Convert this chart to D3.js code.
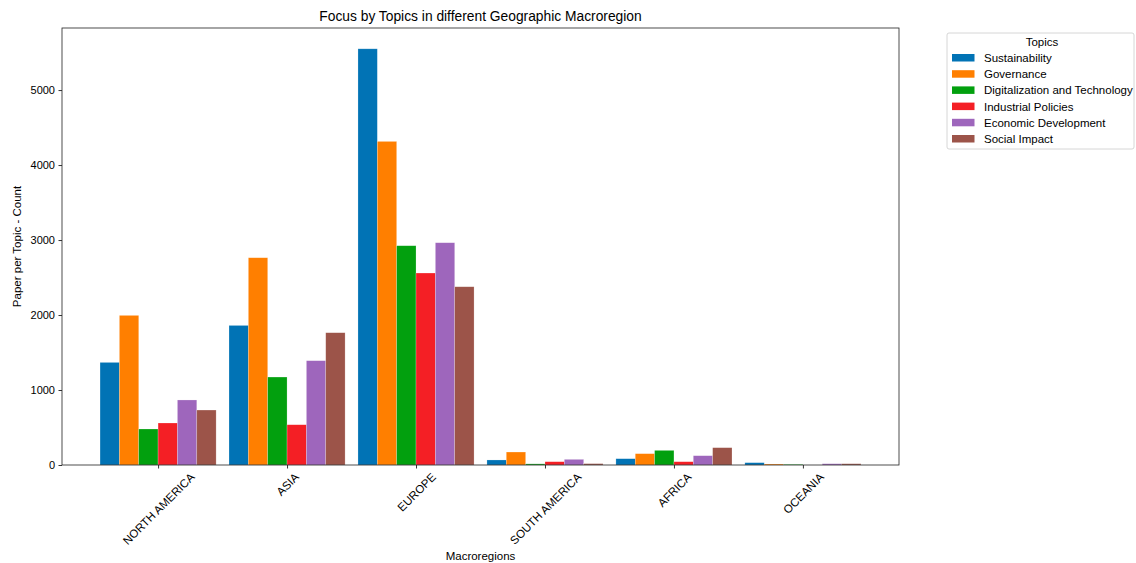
<!DOCTYPE html>
<html>
<head>
<meta charset="utf-8">
<script src="https://cdn.jsdelivr.net/npm/d3@7"></script>
<style>
  html, body { margin: 0; padding: 0; background: #fff; }
  svg { display: block; font-family: "Liberation Sans", Arial, sans-serif; }
</style>
</head>
<body>
<svg id="chart" width="1136" height="563"></svg>
<script>
// Macroregions on the x axis
const regions = ["NORTH AMERICA", "ASIA", "EUROPE", "SOUTH AMERICA", "AFRICA", "OCEANIA"];
// Topic series
const topics = ["Sustainability", "Governance", "Digitalization and Technology",
                "Industrial Policies", "Economic Development", "Social Impact"];
const topicColors = ["#0173b5", "#ff7f00", "#02a00e", "#f41f25", "#9e66bc", "#9c5449"];

// Paper counts per topic, one value per macroregion (in regions order)
const sustainability = [1368, 1861, 5550, 67, 84, 31];
const governance     = [1995, 2764, 4315, 173, 151, 13];
const digitalization = [480, 1173, 2924, 15, 195, 8];
const industrial     = [560, 537, 2560, 44, 44, 0];
const economic       = [867, 1391, 2964, 75, 124, 17];
const social         = [733, 1764, 2377, 18, 231, 17];

const yTicks = [0, 1000, 2000, 3000, 4000, 5000];

const seriesValues = [sustainability, governance, digitalization, industrial, economic, social];

const FONT = "Liberation Sans, Arial, sans-serif";
const labelSize = 11.5;

const svg = d3.select("#chart");
const margin = { left: 62, right: 237, top: 28, bottom: 98 };
const W = 1136, H = 563;
const plotW = W - margin.left - margin.right;
const plotH = H - margin.top - margin.bottom;

const g = svg.append("g").attr("transform", `translate(${margin.left},${margin.top})`);

// Numeric x scale in category units, matching a 0.15-wide bar layout
const barW = 0.15;
const xMin = -0.45 - 0.295, xMax = 5.45 + 0.295;
const x = d3.scaleLinear().domain([xMin, xMax]).range([0, plotW]);
const yMax = d3.max(seriesValues.flat()) * 1.05;
const y = d3.scaleLinear().domain([0, yMax]).range([plotH, 0]);

// Bars
seriesValues.forEach((vals, si) => {
  const offset = (si - 2.5) * barW;
  g.append("g").selectAll("rect")
    .data(vals.map((v, i) => ({ v, i })))
    .join("rect")
    .attr("x", d => x(d.i + offset - barW / 2))
    .attr("width", d => x(barW) - x(0))
    .attr("y", d => y(d.v))
    .attr("height", d => y(0) - y(d.v))
    .attr("fill", topicColors[si])
    .attr("stroke", "#fff")
    .attr("stroke-opacity", 0.35)
    .attr("stroke-width", 0.6);
});

// Y axis
const yAxis = g.append("g")
  .call(d3.axisLeft(y).tickValues(yTicks).tickSize(3.5).tickPadding(3.5).tickFormat(d3.format("d")));
yAxis.selectAll("text").attr("font-size", 11).attr("fill", "#000").attr("font-family", FONT);
yAxis.selectAll("line").attr("stroke", "#000").attr("stroke-width", 0.8);
yAxis.select(".domain").remove();

// X axis with labels rotated 45° about their centre
const xAxis = g.append("g").attr("transform", `translate(0,${plotH})`)
  .call(d3.axisBottom(x).tickValues(d3.range(regions.length)).tickSize(3.5)
    .tickFormat(i => regions[i]));
xAxis.select(".domain").remove();
xAxis.selectAll("line").attr("stroke", "#000").attr("stroke-width", 0.8);
xAxis.selectAll("text")
  .attr("font-size", labelSize).attr("fill", "#000").attr("font-family", FONT)
  .attr("text-anchor", "middle")
  .attr("dy", null).attr("y", null)
  .each(function () {
    const w = this.getComputedTextLength();
    const h = labelSize * 0.72;
    const half = (w + h) / Math.SQRT2 / 2;
    const cy = 3.5 + 3.5 + half;
    d3.select(this).attr("transform", `translate(0,${cy}) rotate(-45) translate(0,${h / 2})`);
  });

// Frame
g.append("rect").attr("x", 0).attr("y", 0).attr("width", plotW).attr("height", plotH)
  .attr("fill", "none").attr("stroke", "#222").attr("stroke-width", 0.8);

// Title and axis labels
svg.append("text").attr("x", margin.left + plotW / 2).attr("y", 21)
  .attr("text-anchor", "middle").attr("font-size", 13.8).attr("fill", "#000")
  .text("Focus by Topics in different Geographic Macroregion");
svg.append("text").attr("x", margin.left + plotW / 2).attr("y", 560)
  .attr("text-anchor", "middle").attr("font-size", labelSize).attr("fill", "#000")
  .text("Macroregions");
svg.append("text")
  .attr("transform", `translate(21,${margin.top + plotH / 2}) rotate(-90)`)
  .attr("text-anchor", "middle").attr("font-size", labelSize).attr("fill", "#000")
  .text("Paper per Topic - Count");

// Legend
const lg = svg.append("g").attr("transform", "translate(947,33)");
lg.append("rect").attr("x", 0).attr("y", 0).attr("width", 187).attr("height", 116).attr("rx", 2)
  .attr("fill", "#fff").attr("stroke", "#ccc").attr("stroke-width", 0.8);
lg.append("text").attr("x", 95).attr("y", 13).attr("text-anchor", "middle")
  .attr("font-size", labelSize).attr("fill", "#000").text("Topics");
topics.forEach((t, i) => {
  const yy = 25 + i * 16.2;
  lg.append("rect").attr("x", 5).attr("y", yy - 4).attr("width", 22.5).attr("height", 7.5)
    .attr("fill", topicColors[i]);
  lg.append("text").attr("x", 37).attr("y", yy + 4).attr("font-size", labelSize).attr("fill", "#000").text(t);
});
</script>
</body>
</html>
